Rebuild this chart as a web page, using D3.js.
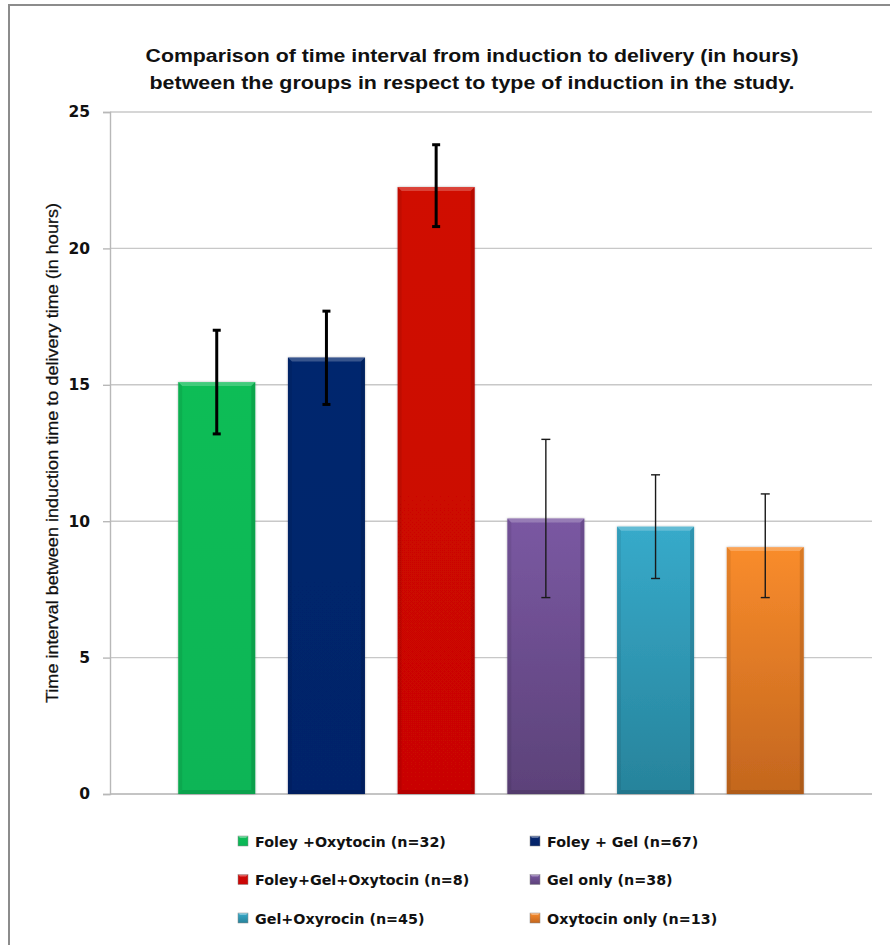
<!DOCTYPE html>
<html>
<head>
<meta charset="utf-8">
<script src="https://cdn.jsdelivr.net/npm/d3@7"></script>
<style>
  html, body { margin: 0; padding: 0; background: #fff; }
  svg { display: block; }
</style>
</head>
<body>
<script>
// ---- data ----
const titleLines = [
  "Comparison of time interval from induction to delivery (in hours)",
  "between the groups in respect to type of induction in the study."
];
const yAxisTitle = "Time interval between induction time to delivery time (in hours)";
const groups = [
  "Foley +Oxytocin (n=32)",
  "Foley + Gel (n=67)",
  "Foley+Gel+Oxytocin (n=8)",
  "Gel only (n=38)",
  "Gel+Oxyrocin (n=45)",
  "Oxytocin only (n=13)"
];
const means   = [15.1, 16.0, 22.25, 10.1, 9.8, 9.05];
const errLow  = [13.2, 14.28, 20.8, 7.2, 7.9, 7.2];
const errHigh = [17.0, 17.7, 23.8, 13.0, 11.7, 11.0];
const yTicks  = [0, 5, 10, 15, 20, 25];
const colorsTop    = ["#0CBD57", "#06266E", "#D00806", "#7A58A2", "#37AACA", "#F98C2C"];
const colorsBottom = ["#0BB556", "#04246A", "#C90605", "#5C4279", "#27839B", "#C3661E"];

// ---- layout ----
const W = 890, H = 945;
const plot = { left: 110, right: 872, top: 112, bottom: 794 };

const svg = d3.select("body").append("svg").attr("width", W).attr("height", H);

// outer border
svg.append("rect").attr("x", 9).attr("y", 5).attr("width", W + 20).attr("height", H + 20)
  .attr("fill", "#fff").attr("stroke", "#8c8c8c").attr("stroke-width", 2);

const defs = svg.append("defs");
groups.forEach((g, i) => {
  const lg = defs.append("linearGradient").attr("id", "grad" + i)
    .attr("x1", 0).attr("y1", 0).attr("x2", 0).attr("y2", 1);
  lg.append("stop").attr("offset", "0%").attr("stop-color", colorsTop[i]);
  lg.append("stop").attr("offset", "100%").attr("stop-color", colorsBottom[i]);
});
const flt = defs.append("filter").attr("id", "shadow").attr("x", "-10%").attr("y", "-5%").attr("width", "120%").attr("height", "110%");
flt.append("feDropShadow").attr("dx", 0).attr("dy", 0).attr("stdDeviation", 1.2).attr("flood-color", "#000").attr("flood-opacity", 0.3);

// title
const title = svg.append("g");
titleLines.forEach((t, i) => {
  title.append("text")
    .attr("x", 472).attr("y", 62 + i * 27)
    .attr("text-anchor", "middle")
    .attr("font-family", "'Liberation Sans', Arial, sans-serif")
    .attr("font-weight", "bold").attr("font-size", 19)
    .attr("textLength", i === 0 ? 653 : 645).attr("lengthAdjust", "spacingAndGlyphs")
    .attr("fill", "#111")
    .text(t);
});

// scales
const y = d3.scaleLinear().domain([0, 25]).range([plot.bottom, plot.top]);
const x = d3.scaleBand().domain(groups).range([plot.left, plot.right])
  .paddingInner(0.298).paddingOuter(0.622);

// gridlines
svg.append("g").selectAll("line").data(yTicks).join("line")
  .attr("x1", plot.left).attr("x2", plot.right)
  .attr("y1", d => y(d)).attr("y2", d => y(d))
  .attr("stroke", d => d === 0 ? "#c4c4c4" : "#c8c8c8").attr("stroke-width", d => d === 0 ? 2 : 1.4);

// y axis
const yAxis = d3.axisLeft(y).tickValues(yTicks).tickSize(7).tickPadding(13).tickFormat(d3.format("d"));
const ya = svg.append("g").attr("transform", `translate(${plot.left},0)`).call(yAxis);
ya.select(".domain").attr("stroke", "#b8b8b8").attr("stroke-width", 1.4);
ya.selectAll(".tick line").attr("stroke", "#b8b8b8").attr("stroke-width", 1.4);
ya.selectAll(".tick text")
  .attr("font-family", "'DejaVu Sans', Verdana, sans-serif")
  .attr("font-weight", "bold").attr("font-size", 15.5).attr("fill", "#111");

// y axis title
svg.append("text")
  .attr("transform", `translate(58,${(plot.top + plot.bottom) / 2}) rotate(-90)`)
  .attr("text-anchor", "middle")
  .attr("font-family", "'Liberation Sans', Arial, sans-serif")
  .attr("font-size", 16).attr("fill", "#111").attr("stroke", "#111").attr("stroke-width", 0.25)
  .attr("textLength", 500).attr("lengthAdjust", "spacingAndGlyphs")
  .text(yAxisTitle);

// bars
const bars = svg.append("g");
groups.forEach((g, i) => {
  const bx = x(g), bw = x.bandwidth(), by = y(means[i]), bh = y(0) - y(means[i]);
  const gb = bars.append("g");
  gb.append("rect").attr("x", bx).attr("y", by).attr("width", bw).attr("height", bh)
    .attr("fill", `url(#grad${i})`).attr("filter", "url(#shadow)");
  const b = 4;
  gb.append("polygon")
    .attr("points", `${bx},${by} ${bx + bw},${by} ${bx + bw - b},${by + b} ${bx + b},${by + b}`)
    .attr("fill", "#fff").attr("opacity", 0.22);
  gb.append("polygon")
    .attr("points", `${bx},${by} ${bx + b},${by + b} ${bx + b},${by + bh - b} ${bx},${by + bh}`)
    .attr("fill", "#000").attr("opacity", 0.07);
  gb.append("polygon")
    .attr("points", `${bx + bw},${by} ${bx + bw - b},${by + b} ${bx + bw - b},${by + bh - b} ${bx + bw},${by + bh}`)
    .attr("fill", "#000").attr("opacity", 0.12);
  gb.append("polygon")
    .attr("points", `${bx},${by + bh} ${bx + b},${by + bh - b} ${bx + bw - b},${by + bh - b} ${bx + bw},${by + bh}`)
    .attr("fill", "#000").attr("opacity", 0.1);
});

// error bars
const eb = svg.append("g");
groups.forEach((g, i) => {
  const cx = x(g) + x.bandwidth() / 2;
  const thick = i < 3;
  const sw = thick ? 3 : 1.4;
  const cap = thick ? 4 : 4.5;
  const col = thick ? "#000" : "#1a1a1a";
  eb.append("line").attr("x1", cx).attr("x2", cx).attr("y1", y(errLow[i])).attr("y2", y(errHigh[i]))
    .attr("stroke", col).attr("stroke-width", sw);
  [errLow[i], errHigh[i]].forEach(v => {
    eb.append("line").attr("x1", cx - cap).attr("x2", cx + cap).attr("y1", y(v)).attr("y2", y(v))
      .attr("stroke", col).attr("stroke-width", sw);
  });
});

// legend
const legX = [238, 530], legY = [841, 879.5, 918];
const leg = svg.append("g");
groups.forEach((g, i) => {
  const lx = legX[i % 2], ly = legY[Math.floor(i / 2)];
  leg.append("rect").attr("x", lx).attr("y", ly - 5).attr("width", 10).attr("height", 10)
    .attr("fill", `url(#grad${i})`).attr("stroke", "#888").attr("stroke-width", 0.5);
  leg.append("polygon")
    .attr("points", `${lx},${ly - 5} ${lx + 10},${ly - 5} ${lx + 8},${ly - 3} ${lx + 2},${ly - 3}`)
    .attr("fill", "#fff").attr("opacity", 0.35);
  leg.append("text").attr("x", lx + 17).attr("y", ly + 5.5)
    .attr("font-family", "'DejaVu Sans', Verdana, sans-serif")
    .attr("font-weight", "bold").attr("font-size", 14.3).attr("fill", "#111")
    .text(g);
});
</script>
</body>
</html>
